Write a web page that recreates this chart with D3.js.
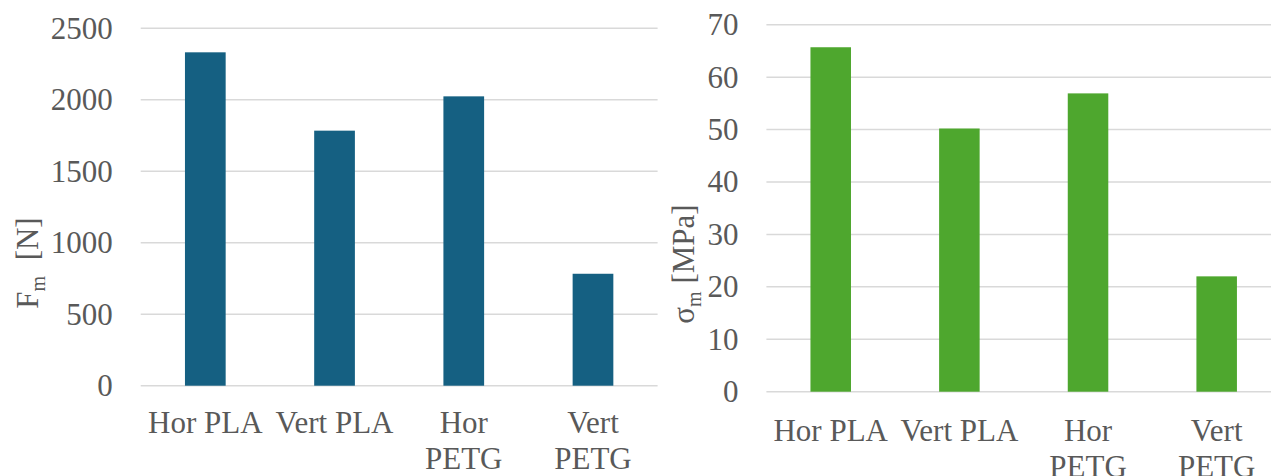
<!DOCTYPE html>
<html>
<head>
<meta charset="utf-8">
<script src="https://cdn.jsdelivr.net/npm/d3@7"></script>
<style>
  html, body { margin: 0; padding: 0; background: #ffffff; }
  svg { display: block; }
  text { font-family: "Liberation Serif", "Times New Roman", serif; fill: #595959; }
</style>
</head>
<body>
<svg id="chart" width="1271" height="476"></svg>
<script>
// ---- data ----
const categories = ["Hor PLA", "Vert PLA", "Hor PETG", "Vert PETG"];
const forceValues = [2332, 1784, 2024, 783];       // F_m [N]
const stressValues = [65.7, 50.2, 56.9, 22.0];      // sigma_m [MPa]
const forceTicks = [0, 500, 1000, 1500, 2000, 2500];
const stressTicks = [0, 10, 20, 30, 40, 50, 60, 70];

const svg = d3.select("#chart");
const FONT = 31;

function drawChart(cfg) {
  const g = svg.append("g");
  const x = d3.scaleBand().domain(categories).range([cfg.left, cfg.right]).paddingInner(0.685).paddingOuter(0.3425);
  const y = d3.scaleLinear().domain([0, cfg.max]).range([cfg.bottom, cfg.top]);

  // gridlines
  g.selectAll("line.grid").data(cfg.ticks).join("line")
    .attr("x1", cfg.left).attr("x2", cfg.right)
    .attr("y1", d => y(d)).attr("y2", d => y(d))
    .attr("stroke", "#d9d9d9").attr("stroke-width", 1.5);

  // y tick labels
  g.selectAll("text.ytick").data(cfg.ticks).join("text")
    .attr("x", cfg.left - 28).attr("y", d => y(d))
    .attr("text-anchor", "end").attr("dominant-baseline", "central")
    .attr("font-size", FONT)
    .text(d => d);

  // bars
  g.selectAll("rect.bar").data(cfg.values).join("rect")
    .attr("x", (d, i) => x(categories[i]))
    .attr("width", x.bandwidth())
    .attr("y", d => y(d))
    .attr("height", d => y(0) - y(d))
    .attr("fill", cfg.color);

  // x labels with wrapping
  const step = x.step();
  categories.forEach(c => {
    const t = g.append("text")
      .attr("x", x(c) + x.bandwidth() / 2)
      .attr("y", cfg.bottom + cfg.labelOffset)
      .attr("text-anchor", "middle")
      .attr("font-size", FONT)
      .text(c);
    if (t.node().getComputedTextLength() > step) {
      const words = c.split(" ");
      t.text(null);
      words.forEach((w, i) => {
        t.append("tspan").attr("x", x(c) + x.bandwidth() / 2)
          .attr("dy", i === 0 ? 0 : 36).text(w);
      });
    }
  });

  // y axis title
  const yt = g.append("text")
    .attr("transform", `translate(${cfg.titleX},${cfg.titleY}) rotate(-90)`)
    .attr("text-anchor", "middle")
    .attr("font-size", FONT);
  yt.append("tspan").text(cfg.titleMain);
  yt.append("tspan").attr("font-size", 20).attr("dy", 7).text("m");
  yt.append("tspan").attr("dy", -7).text(cfg.titleUnit);
}

drawChart({
  left: 140.7, right: 657.6, top: 28.3, bottom: 385.7,
  max: 2500, ticks: forceTicks, values: forceValues, color: "#156082",
  labelOffset: 47.5, titleX: 38, titleY: 263, titleMain: "F", titleUnit: "\u00a0 [N]"
});

drawChart({
  left: 766.4, right: 1281, top: 24.7, bottom: 391.7,
  max: 70, ticks: stressTicks, values: stressValues, color: "#4ea72e",
  labelOffset: 49, titleX: 694, titleY: 264, titleMain: "\u03c3", titleUnit: " [MPa]"
});
</script>
</body>
</html>
